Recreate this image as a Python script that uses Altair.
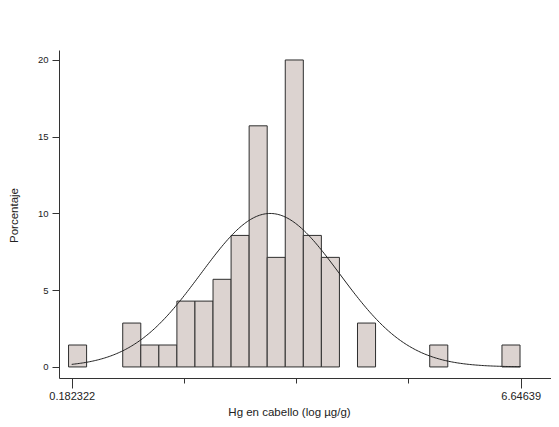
import altair as alt
import numpy as np
import pandas as pd

# Histogram (percent per bin)
bin_origin = 0.137
bin_width = 0.26
percent = [1.43, 0, 0, 2.86, 1.43, 1.43, 4.29, 4.29, 5.71, 8.57, 15.71, 7.14,
           20.0, 8.57, 7.14, 0, 2.86, 0, 0, 0, 1.43, 0, 0, 0, 1.43]

# Fitted normal curve parameters
x_min = 0.182322
x_max = 6.64639
curve_mean = 3.04
curve_sd = 1.0
curve_peak = 10.0

x_ticks = [0.182322, 1.798339, 3.414356, 5.030373, 6.64639]
y_ticks = [0, 5, 10, 15, 20]

bars = pd.DataFrame({
    "x0": [bin_origin + k * bin_width for k in range(len(percent))],
    "x1": [bin_origin + (k + 1) * bin_width for k in range(len(percent))],
    "pct": percent,
})
bars = bars[bars.pct > 0]

xs = np.linspace(x_min, x_max, 300)
curve = pd.DataFrame({"x": xs, "y": curve_peak * np.exp(-0.5 * ((xs - curve_mean) / curve_sd) ** 2)})

font = "Liberation Sans"
xscale = alt.Scale(domain=[-0.0005, 7.083], nice=False, zero=False)
yscale = alt.Scale(domain=[-0.72, 20.65], nice=False, zero=False)

xaxis = alt.Axis(
    values=x_ticks,
    labelExpr="datum.value < 0.2 ? '0.182322' : (datum.value > 6.6 ? '6.64639' : '')",
    title="Hg en cabello (log µg/g)",
    grid=False,
    domainColor="#333333",
    tickColor="#333333",
    tickSize={"condition": {"test": "datum.value < 0.2 || datum.value > 6.6", "value": 10}, "value": 5},
    labelPadding=2,
    labelFont=font,
    labelFontSize=11,
    labelColor="#222222",
    titleFont=font,
    titleFontSize=11.5,
    titleFontWeight="normal",
    titleColor="#222222",
    titleX=230,
    titleY=34,
    titleAlign="center",
    titleBaseline="middle",
)
yaxis = alt.Axis(
    values=y_ticks,
    title="Porcentaje",
    grid=False,
    domainColor="#333333",
    tickColor="#333333",
    tickSize=7,
    labelPadding=4,
    labelFont=font,
    labelFontSize=9.5,
    labelColor="#222222",
    titleFont=font,
    titleFontSize=11.5,
    titleFontWeight="normal",
    titleColor="#222222",
    titleX=-45,
    titleY=165,
    titleAngle=-90,
    titleAlign="center",
    titleBaseline="middle",
)

rects = alt.Chart(bars).mark_rect(
    fill="#dcd3d0", stroke="#2e2e2e", strokeWidth=1
).encode(
    x=alt.X("x0:Q", scale=xscale, axis=xaxis),
    x2="x1:Q",
    y=alt.Y("pct:Q", scale=yscale, axis=yaxis),
    y2=alt.datum(0),
)

line = alt.Chart(curve).mark_line(color="#222222", strokeWidth=1).encode(
    x=alt.X("x:Q", scale=xscale),
    y=alt.Y("y:Q", scale=yscale),
)

chart = alt.layer(rects, line).properties(
    width=492,
    height=328,
    background="white",
    autosize=alt.AutoSizeParams(type="none"),
    padding={"left": 51, "top": 42, "right": 0, "bottom": 40},
).configure_view(stroke="transparent", strokeWidth=0)

chart.save("out.html", embed_options={"renderer": "svg", "actions": False})
